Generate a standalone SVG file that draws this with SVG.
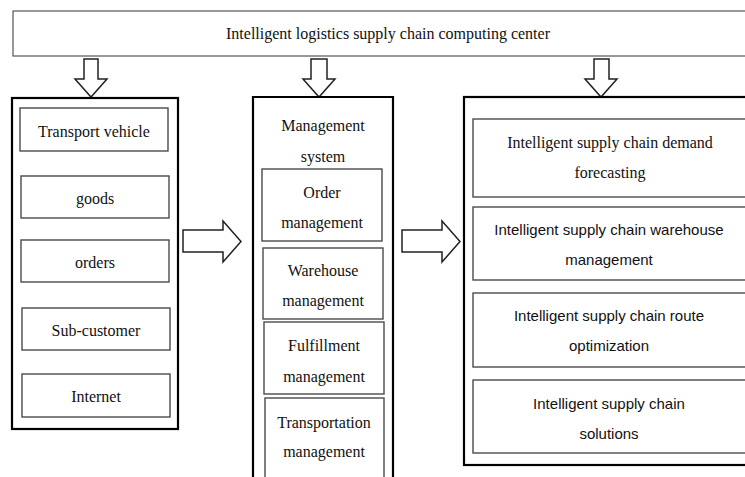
<svg xmlns="http://www.w3.org/2000/svg" width="745" height="477" viewBox="0 0 745 477">
<style>
.outer{fill:#fff;stroke:#000;stroke-width:2.2}
.inner{fill:#fff;stroke:#4a4a4a;stroke-width:1.4}
.top{fill:#fff;stroke:#555;stroke-width:1.2}
.arr{fill:#fff;stroke:#222;stroke-width:1.5;stroke-linejoin:miter}
.s{font-family:"Liberation Serif","Times New Roman",serif;font-size:16px;fill:#111;text-anchor:middle}
.c{font-family:"Liberation Sans",Arial,sans-serif;font-size:15px;fill:#111;text-anchor:middle}
</style>
<rect width="745" height="477" fill="#fff"/>
<g id="center">
<rect class="top" x="13" y="11" width="740" height="45"/>
<text class="s" x="388" y="39">Intelligent logistics supply chain computing center</text>
</g>
<g id="connectors">
<path class="arr" d="M84,59 H98 V79 H107 L91,97 L75,79 H84 Z"/>
<path class="arr" d="M311,59 H327 V79 H335 L319,97 L303,79 H311 Z"/>
<path class="arr" d="M594,59 H609 V79 H617 L601,97 L585,79 H594 Z"/>
<path class="arr" d="M183,230 H223 V221 L241,241.5 L223,262 V252 H183 Z"/>
<path class="arr" d="M402,230 H442 V221 L460,241.5 L442,262 V252 H402 Z"/>
</g>
<g id="sources">
<rect class="outer" x="12" y="98" width="166" height="331"/>
<g id="transport-vehicle"><rect class="inner" x="20" y="108" width="148" height="43"/><text class="s" x="94" y="137">Transport vehicle</text></g>
<g id="goods"><rect class="inner" x="21" y="176" width="148" height="42"/><text class="s" x="95" y="204">goods</text></g>
<g id="orders"><rect class="inner" x="21" y="240" width="148" height="42"/><text class="s" x="95" y="268">orders</text></g>
<g id="sub-customer"><rect class="inner" x="22" y="308" width="148" height="42"/><text class="s" x="96" y="336">Sub-customer</text></g>
<g id="internet"><rect class="inner" x="22" y="374" width="148" height="43"/><text class="s" x="96" y="402">Internet</text></g>
</g>
<g id="management-system">
<path class="outer" d="M253,480 V97 H393 V480"/>
<text class="s" x="323" y="131">Management</text>
<text class="s" x="323" y="162">system</text>
<g id="order-management"><rect class="inner" x="262" y="169" width="120" height="72"/><text class="s" x="322" y="198">Order</text><text class="s" x="322" y="228">management</text></g>
<g id="warehouse-management"><rect class="inner" x="263" y="248" width="120" height="71"/><text class="s" x="323" y="276">Warehouse</text><text class="s" x="323" y="306">management</text></g>
<g id="fulfillment-management"><rect class="inner" x="264" y="322" width="120" height="72"/><text class="s" x="324" y="351">Fulfillment</text><text class="s" x="324" y="382">management</text></g>
<g id="transportation-management"><rect class="inner" x="265" y="398" width="119" height="85"/><text class="s" x="324" y="428">Transportation</text><text class="s" x="324" y="457">management</text></g>
</g>
<g id="applications">
<rect class="outer" x="464" y="97" width="290" height="368"/>
<g id="demand-forecasting"><rect class="inner" x="473" y="119" width="280" height="78"/><text class="s" x="610" y="148">Intelligent supply chain demand</text><text class="s" x="610" y="178">forecasting</text></g>
<g id="warehouse"><rect class="inner" x="473" y="207" width="280" height="73"/><text class="c" x="609" y="235">Intelligent supply chain warehouse</text><text class="c" x="609" y="265">management</text></g>
<g id="route-optimization"><rect class="inner" x="473" y="293" width="280" height="74"/><text class="c" x="609" y="321">Intelligent supply chain route</text><text class="c" x="609" y="351">optimization</text></g>
<g id="solutions"><rect class="inner" x="473" y="380" width="280" height="73"/><text class="c" x="609" y="409">Intelligent supply chain</text><text class="c" x="609" y="439">solutions</text></g>
</g>
</svg>
